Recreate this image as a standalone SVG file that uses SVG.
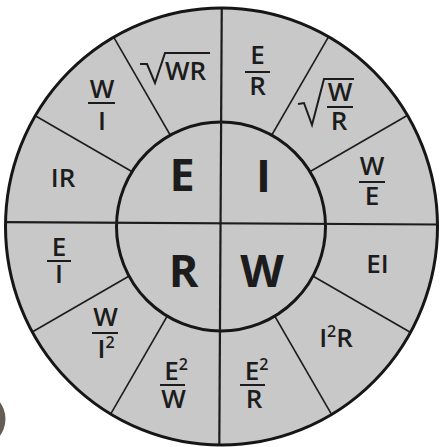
<svg xmlns="http://www.w3.org/2000/svg" width="440" height="447" viewBox="0 0 440 447">
<defs>
<style>
.lbl{font-family:"Open Sans","Liberation Sans",sans-serif;font-weight:600;font-size:26px;fill:#1c1c1c;text-anchor:middle}
.big{font-size:45px;font-weight:700}
.sup{font-size:16px}
.bar{stroke:#1c1c1c;stroke-width:2}
.rad{fill:none;stroke:#1c1c1c;stroke-width:2}
.div{stroke:#1c1c1c;stroke-width:1.6;fill:none}
.cross{stroke:#1c1c1c;stroke-width:2.2;fill:none}
.ring{stroke:#161616;stroke-width:3}
</style>
<clipPath id="wheel"><ellipse cx="221.5" cy="226.5" rx="216" ry="218.5"/></clipPath>
</defs>
<rect width="440" height="447" fill="#ffffff"/>
<ellipse cx="-20" cy="419" rx="25.5" ry="27" fill="#655d55"/>
<ellipse cx="221.5" cy="226.5" rx="216" ry="218.5" fill="#c8c8c8"/>
<g id="connectors">
<g clip-path="url(#wheel)" class="div">
<line x1="221" y1="223" x2="420.2" y2="108"/>
<line x1="221" y1="223" x2="336" y2="23.8"/>
<line x1="221" y1="223" x2="106" y2="23.8"/>
<line x1="221" y1="223" x2="21.8" y2="108"/>
<line x1="221" y1="223" x2="21.8" y2="338"/>
<line x1="221" y1="223" x2="106" y2="422.2"/>
<line x1="221" y1="223" x2="336" y2="422.2"/>
<line x1="221" y1="223" x2="420.2" y2="338"/>
</g>
<circle cx="221" cy="226.5" r="104.5" fill="#c8c8c8" class="ring"/>
<g clip-path="url(#wheel)" class="cross">
<line x1="0" y1="222" x2="440" y2="224.5"/>
<line x1="221.8" y1="0" x2="219.3" y2="447"/>
</g>
<ellipse cx="221.5" cy="226.5" rx="216" ry="218.5" fill="none" class="ring"/>
</g>
<g id="node-E"><text class="lbl big" x="182" y="191">E</text></g>
<g id="node-I"><text class="lbl big" x="263.5" y="192">I</text></g>
<g id="node-R"><text class="lbl big" x="183.5" y="287">R</text></g>
<g id="node-W"><text class="lbl big" x="262" y="287">W</text></g>
<g id="e-sqrt-WR">
<polyline class="rad" points="140,64 147,64 155,83 165,53 210,53"/>
<text class="lbl" x="185.5" y="80">WR</text>
</g>
<g id="i-E-over-R">
<line class="bar" x1="245" y1="72" x2="270" y2="72"/>
<text class="lbl"><tspan x="257.5" y="64">E</tspan><tspan x="257.5" y="95">R</tspan></text>
</g>
<g id="i-sqrt-W-over-R">
<polyline class="rad" points="298,104 304,103 312,125 324,79 354,79"/>
<line class="bar" x1="327" y1="107" x2="353" y2="107"/>
<text class="lbl"><tspan x="340" y="101">W</tspan><tspan x="339" y="130">R</tspan></text>
</g>
<g id="i-W-over-E">
<line class="bar" x1="359" y1="182" x2="385" y2="182"/>
<text class="lbl"><tspan x="372" y="175">W</tspan><tspan x="372" y="205">E</tspan></text>
</g>
<g id="w-EI"><text class="lbl" x="377.5" y="273">EI</text></g>
<g id="w-I2R"><text class="lbl" x="336" y="347">I<tspan class="sup" dy="-10">2</tspan><tspan dy="10">R</tspan></text></g>
<g id="w-E2-over-R">
<line class="bar" x1="240" y1="385" x2="265" y2="385"/>
<text class="lbl"><tspan x="256.5" y="380">E</tspan><tspan class="sup" dy="-10">2</tspan><tspan x="254" y="408">R</tspan></text>
</g>
<g id="r-E2-over-W">
<line class="bar" x1="160" y1="385" x2="185" y2="385"/>
<text class="lbl"><tspan x="176" y="380">E</tspan><tspan class="sup" dy="-10">2</tspan><tspan x="173.5" y="408">W</tspan></text>
</g>
<g id="r-W-over-I2">
<line class="bar" x1="92" y1="333" x2="118" y2="333"/>
<text class="lbl"><tspan x="105.5" y="326">W</tspan><tspan x="106" y="358">I</tspan><tspan class="sup" dy="-10">2</tspan></text>
</g>
<g id="r-E-over-I">
<line class="bar" x1="47" y1="261" x2="71" y2="261"/>
<text class="lbl"><tspan x="59" y="256">E</tspan><tspan x="59" y="283">I</tspan></text>
</g>
<g id="e-IR"><text class="lbl" x="63" y="187">IR</text></g>
<g id="e-W-over-I">
<line class="bar" x1="88" y1="103" x2="115" y2="103"/>
<text class="lbl"><tspan x="102" y="98">W</tspan><tspan x="102" y="130">I</tspan></text>
</g>
</svg>
